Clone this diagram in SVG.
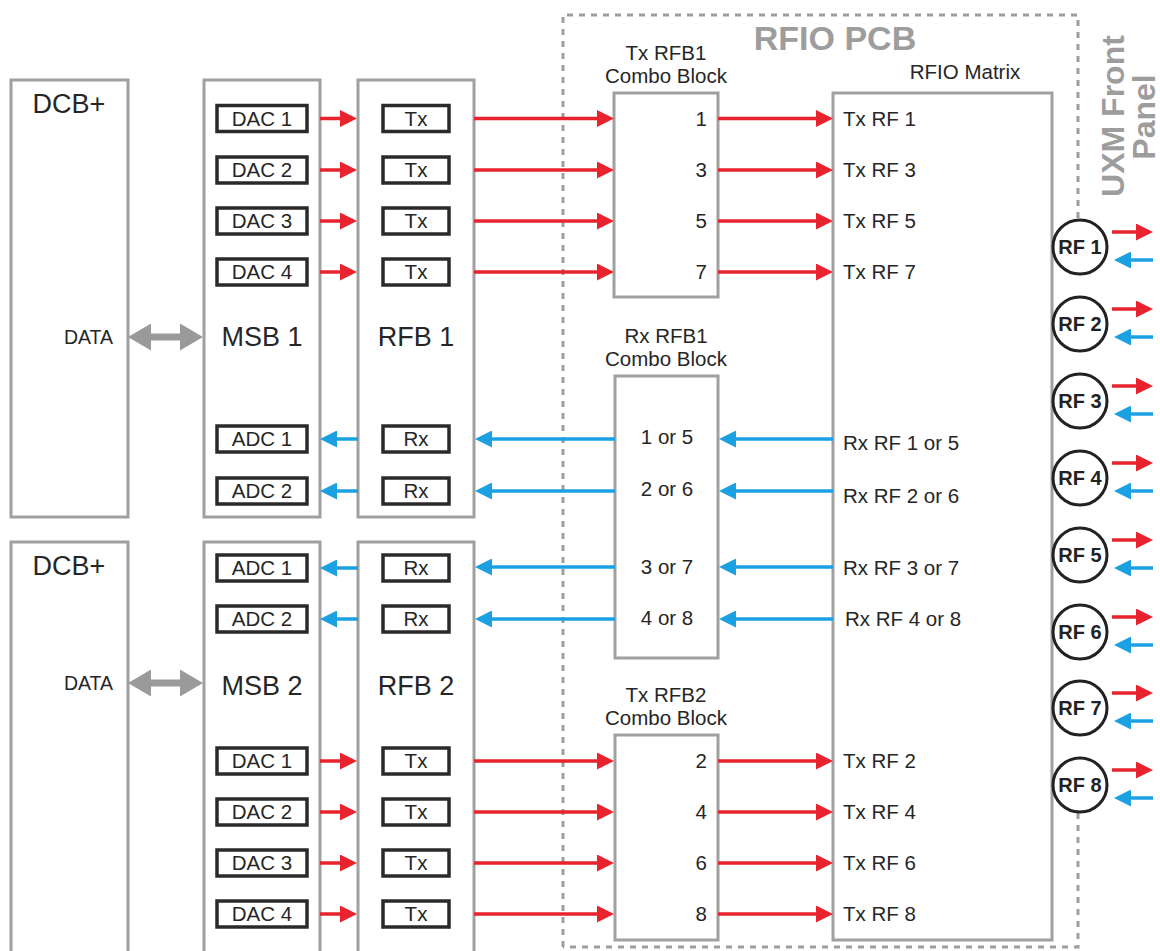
<svg xmlns="http://www.w3.org/2000/svg" width="1160" height="951" viewBox="0 0 1160 951">
<style>
text{font-family:"Liberation Sans",Arial,sans-serif;fill:#262626}
.blk{fill:#fff;stroke:#a0a0a0;stroke-width:3}
.sub{fill:#fff;stroke:#2a2a2a;stroke-width:3.5}
.big{font-size:27px}
.lab{font-size:20.5px}
.mid{text-anchor:middle}
.end{text-anchor:end}
.dat{font-size:19.5px}
.pcb{font-weight:bold;fill:#9d9d9d}
.rfc{fill:#fff;stroke:#222;stroke-width:3}
.rft{font-size:20px;font-weight:bold;text-anchor:middle;fill:#222}
.dash{fill:none;stroke:#9d9d9d;stroke-width:3;stroke-dasharray:6 6}
.red{stroke:#e8232d;stroke-width:3.5;fill:none;marker-end:url(#ar)}
.blue{stroke:#1ba1e2;stroke-width:3.5;fill:none;marker-end:url(#ab)}
.gray{stroke:#9a9a9a;stroke-width:7;fill:none;marker-start:url(#ag);marker-end:url(#ag)}
</style>
<defs>
<marker id="ar" markerUnits="userSpaceOnUse" viewBox="0 0 17 17" markerWidth="17" markerHeight="17" refX="9" refY="8.5" orient="auto"><path d="M0,0L17,8.5L0,17z" fill="#e8232d"/></marker>
<marker id="ab" markerUnits="userSpaceOnUse" viewBox="0 0 17 17" markerWidth="17" markerHeight="17" refX="9" refY="8.5" orient="auto"><path d="M0,0L17,8.5L0,17z" fill="#1ba1e2"/></marker>
<marker id="ag" markerUnits="userSpaceOnUse" viewBox="0 0 23 27" markerWidth="23" markerHeight="27" refX="12" refY="13.5" orient="auto-start-reverse"><path d="M0,0L23,13.5L0,27z" fill="#9a9a9a"/></marker>
</defs>
<rect width="1160" height="951" fill="#fff"/>

<g id="rfio-pcb">
<path class="dash" d="M563,947V15H1078V218M1078,813V947H563"/>
<text class="pcb mid" x="835" y="50" font-size="34">RFIO PCB</text>
</g>
<g id="uxm-front-panel">
<text class="pcb mid" font-size="32" transform="translate(1124,116) rotate(-90)">UXM Front</text>
<text class="pcb mid" font-size="32" transform="translate(1155,117) rotate(-90)">Panel</text>
</g>

<g id="dcb1"><rect class="blk" x="11" y="80" width="117" height="437"/><text class="big mid" x="69" y="113">DCB+</text><text class="dat end" x="113" y="344">DATA</text></g>
<g id="dcb2"><rect class="blk" x="11" y="542" width="117" height="420"/><text class="big mid" x="69" y="575">DCB+</text><text class="dat end" x="113" y="690">DATA</text></g>

<g id="msb1"><rect class="blk" x="204" y="80" width="116" height="437"/><text class="big mid" x="262" y="346">MSB 1</text>
<g id="msb1-dac1"><rect class="sub" x="217" y="105.5" width="90" height="26"/><text class="lab mid" x="262" y="125.5">DAC 1</text></g>
<g id="msb1-dac2"><rect class="sub" x="217" y="157" width="90" height="26"/><text class="lab mid" x="262" y="177">DAC 2</text></g>
<g id="msb1-dac3"><rect class="sub" x="217" y="208" width="90" height="26"/><text class="lab mid" x="262" y="228">DAC 3</text></g>
<g id="msb1-dac4"><rect class="sub" x="217" y="259" width="90" height="26"/><text class="lab mid" x="262" y="279">DAC 4</text></g>
<g id="msb1-adc1"><rect class="sub" x="217" y="426" width="90" height="26"/><text class="lab mid" x="262" y="446">ADC 1</text></g>
<g id="msb1-adc2"><rect class="sub" x="217" y="478" width="90" height="26"/><text class="lab mid" x="262" y="498">ADC 2</text></g>
</g>

<g id="rfb1"><rect class="blk" x="358" y="80" width="116" height="437"/><text class="big mid" x="416" y="346">RFB 1</text>
<g id="rfb1-tx1"><rect class="sub" x="383" y="105.5" width="66" height="26"/><text class="lab mid" x="416" y="125.5">Tx</text></g>
<g id="rfb1-tx2"><rect class="sub" x="383" y="157" width="66" height="26"/><text class="lab mid" x="416" y="177">Tx</text></g>
<g id="rfb1-tx3"><rect class="sub" x="383" y="208" width="66" height="26"/><text class="lab mid" x="416" y="228">Tx</text></g>
<g id="rfb1-tx4"><rect class="sub" x="383" y="259" width="66" height="26"/><text class="lab mid" x="416" y="279">Tx</text></g>
<g id="rfb1-rx1"><rect class="sub" x="383" y="426" width="66" height="26"/><text class="lab mid" x="416" y="446">Rx</text></g>
<g id="rfb1-rx2"><rect class="sub" x="383" y="478" width="66" height="26"/><text class="lab mid" x="416" y="498">Rx</text></g>
</g>

<g id="msb2"><rect class="blk" x="204" y="542" width="116" height="420"/><text class="big mid" x="262" y="695">MSB 2</text>
<g id="msb2-adc1"><rect class="sub" x="217" y="555" width="90" height="26"/><text class="lab mid" x="262" y="575">ADC 1</text></g>
<g id="msb2-adc2"><rect class="sub" x="217" y="606" width="90" height="26"/><text class="lab mid" x="262" y="626">ADC 2</text></g>
<g id="msb2-dac1"><rect class="sub" x="217" y="748" width="90" height="26"/><text class="lab mid" x="262" y="768">DAC 1</text></g>
<g id="msb2-dac2"><rect class="sub" x="217" y="799" width="90" height="26"/><text class="lab mid" x="262" y="819">DAC 2</text></g>
<g id="msb2-dac3"><rect class="sub" x="217" y="850" width="90" height="26"/><text class="lab mid" x="262" y="870">DAC 3</text></g>
<g id="msb2-dac4"><rect class="sub" x="217" y="901" width="90" height="26"/><text class="lab mid" x="262" y="921">DAC 4</text></g>
</g>

<g id="rfb2"><rect class="blk" x="358" y="542" width="116" height="420"/><text class="big mid" x="416" y="695">RFB 2</text>
<g id="rfb2-rx1"><rect class="sub" x="383" y="555" width="66" height="26"/><text class="lab mid" x="416" y="575">Rx</text></g>
<g id="rfb2-rx2"><rect class="sub" x="383" y="606" width="66" height="26"/><text class="lab mid" x="416" y="626">Rx</text></g>
<g id="rfb2-tx1"><rect class="sub" x="383" y="748" width="66" height="26"/><text class="lab mid" x="416" y="768">Tx</text></g>
<g id="rfb2-tx2"><rect class="sub" x="383" y="799" width="66" height="26"/><text class="lab mid" x="416" y="819">Tx</text></g>
<g id="rfb2-tx3"><rect class="sub" x="383" y="850" width="66" height="26"/><text class="lab mid" x="416" y="870">Tx</text></g>
<g id="rfb2-tx4"><rect class="sub" x="383" y="901" width="66" height="26"/><text class="lab mid" x="416" y="921">Tx</text></g>
</g>

<g id="tx-rfb1-combo"><rect class="blk" x="614" y="93" width="104" height="204"/>
<text class="lab mid" x="666" y="60">Tx RFB1</text><text class="lab mid" x="666" y="83">Combo Block</text>
<text class="lab end" x="707" y="125.5">1</text><text class="lab end" x="707" y="177">3</text><text class="lab end" x="707" y="228">5</text><text class="lab end" x="707" y="279">7</text></g>

<g id="rx-rfb1-combo"><rect class="blk" x="615" y="376" width="103" height="282"/>
<text class="lab mid" x="666" y="343">Rx RFB1</text><text class="lab mid" x="666" y="366">Combo Block</text>
<text class="lab mid" x="667" y="444">1 or 5</text><text class="lab mid" x="667" y="496">2 or 6</text><text class="lab mid" x="667" y="574">3 or 7</text><text class="lab mid" x="667" y="625">4 or 8</text></g>

<g id="tx-rfb2-combo"><rect class="blk" x="615" y="735" width="103" height="205"/>
<text class="lab mid" x="666" y="702">Tx RFB2</text><text class="lab mid" x="666" y="725">Combo Block</text>
<text class="lab end" x="707" y="768">2</text><text class="lab end" x="707" y="819">4</text><text class="lab end" x="707" y="870">6</text><text class="lab end" x="707" y="921">8</text></g>

<g id="rfio-matrix"><rect class="blk" x="833" y="93" width="219" height="847"/>
<text class="lab mid" x="965" y="79">RFIO Matrix</text>
<text class="lab" x="843" y="125.5">Tx RF 1</text><text class="lab" x="843" y="177">Tx RF 3</text><text class="lab" x="843" y="228">Tx RF 5</text><text class="lab" x="843" y="279">Tx RF 7</text>
<text class="lab" x="843" y="450">Rx RF 1 or 5</text><text class="lab" x="843" y="503">Rx RF 2 or 6</text><text class="lab" x="843" y="575">Rx RF 3 or 7</text><text class="lab" x="845" y="626">Rx RF 4 or 8</text>
<text class="lab" x="843" y="768">Tx RF 2</text><text class="lab" x="843" y="819">Tx RF 4</text><text class="lab" x="843" y="870">Tx RF 6</text><text class="lab" x="843" y="921">Tx RF 8</text></g>

<g id="rf-ports">
<g id="rf1"><circle class="rfc" cx="1080" cy="247" r="27"/><text class="rft" x="1080" y="254">RF 1</text></g>
<g id="rf2"><circle class="rfc" cx="1080" cy="324" r="27"/><text class="rft" x="1080" y="331">RF 2</text></g>
<g id="rf3"><circle class="rfc" cx="1080" cy="401" r="27"/><text class="rft" x="1080" y="408">RF 3</text></g>
<g id="rf4"><circle class="rfc" cx="1080" cy="478" r="27"/><text class="rft" x="1080" y="485">RF 4</text></g>
<g id="rf5"><circle class="rfc" cx="1080" cy="555" r="27"/><text class="rft" x="1080" y="562">RF 5</text></g>
<g id="rf6"><circle class="rfc" cx="1080" cy="632" r="27"/><text class="rft" x="1080" y="639">RF 6</text></g>
<g id="rf7"><circle class="rfc" cx="1080" cy="708" r="27"/><text class="rft" x="1080" y="715">RF 7</text></g>
<g id="rf8"><circle class="rfc" cx="1080" cy="785" r="27"/><text class="rft" x="1080" y="792">RF 8</text></g>
</g>

<g id="connectors">
<path class="gray" d="M139,337H192"/>
<path class="gray" d="M139,683H192"/>
<path class="red" d="M320,118.5H349"/><path class="red" d="M320,170H349"/><path class="red" d="M320,221H349"/><path class="red" d="M320,272H349"/>
<path class="red" d="M474,118.5H606"/><path class="red" d="M474,170H606"/><path class="red" d="M474,221H606"/><path class="red" d="M474,272H606"/>
<path class="red" d="M718,118.5H825"/><path class="red" d="M718,170H825"/><path class="red" d="M718,221H825"/><path class="red" d="M718,272H825"/>
<path class="blue" d="M833,439H727"/><path class="blue" d="M833,491H727"/><path class="blue" d="M833,567H727"/><path class="blue" d="M833,619H727"/>
<path class="blue" d="M615,439H483"/><path class="blue" d="M615,491H483"/><path class="blue" d="M615,567H483"/><path class="blue" d="M615,619H483"/>
<path class="blue" d="M358,439H328"/><path class="blue" d="M358,491H328"/><path class="blue" d="M358,568H328"/><path class="blue" d="M358,619H328"/>
<path class="red" d="M320,761H349"/><path class="red" d="M320,812H349"/><path class="red" d="M320,863H349"/><path class="red" d="M320,914H349"/>
<path class="red" d="M474,761H606"/><path class="red" d="M474,812H606"/><path class="red" d="M474,863H606"/><path class="red" d="M474,914H606"/>
<path class="red" d="M718,761H825"/><path class="red" d="M718,812H825"/><path class="red" d="M718,863H825"/><path class="red" d="M718,914H825"/>
<path class="red" d="M1112,232H1145"/><path class="red" d="M1112,309H1145"/><path class="red" d="M1112,386H1145"/><path class="red" d="M1112,463H1145"/><path class="red" d="M1112,540H1145"/><path class="red" d="M1112,617H1145"/><path class="red" d="M1112,693H1145"/><path class="red" d="M1112,770H1145"/>
<path class="blue" d="M1153,260H1122"/><path class="blue" d="M1153,337H1122"/><path class="blue" d="M1153,414H1122"/><path class="blue" d="M1153,491H1122"/><path class="blue" d="M1153,568H1122"/><path class="blue" d="M1153,645H1122"/><path class="blue" d="M1153,721H1122"/><path class="blue" d="M1153,798H1122"/>
</g>
</svg>
